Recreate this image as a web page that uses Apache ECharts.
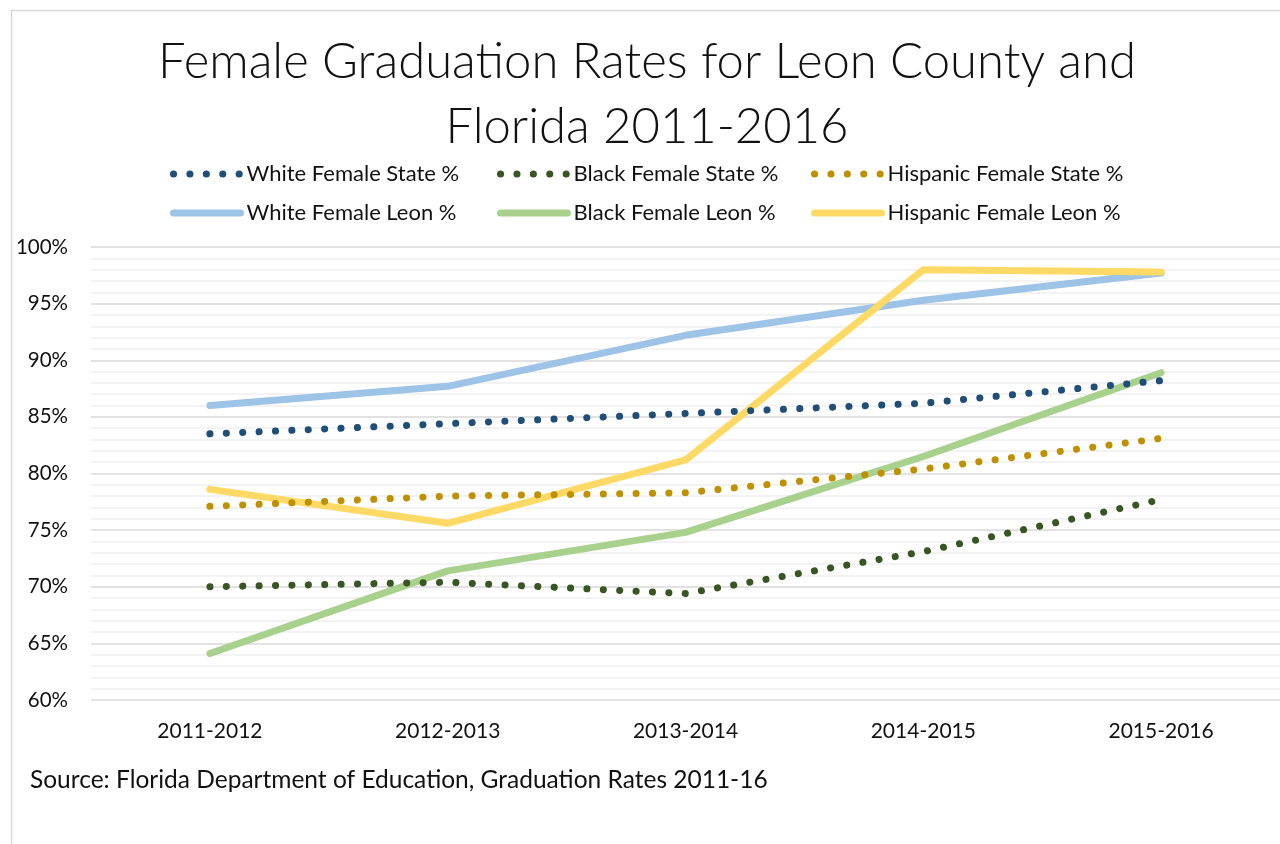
<!DOCTYPE html>
<html>
<head>
<meta charset="utf-8">
<script src="https://cdn.jsdelivr.net/npm/echarts@6/dist/echarts.min.js"></script>
<style>
  html, body { margin: 0; padding: 0; background: #fff; }
  #chart { width: 1280px; height: 844px; }
</style>
</head>
<body>
<div id="chart"></div>
<script>
const years = ['2011-2012', '2012-2013', '2013-2014', '2014-2015', '2015-2016'];

const whiteState = [83.5, 84.4, 85.3, 86.2, 88.2];
const blackState = [70.0, 70.4, 69.4, 73.1, 77.7];
const hispanicState = [77.1, 78.0, 78.3, 80.4, 83.1];
const whiteLeon = [86.0, 87.7, 92.2, 95.3, 97.7];
const blackLeon = [64.1, 71.4, 74.8, 81.5, 88.9];
const hispanicLeon = [78.6, 75.6, 81.2, 98.0, 97.8];

const fontFamily = 'Lato, "Open Sans", sans-serif';

let chartElement = document.getElementById('chart');
let chart = echarts.init(chartElement);

function dotted(name, color, data) {
    return {
        name: name,
        type: 'line',
        data: data,
        symbol: 'none',
        z: 3,
        itemStyle: { color: color },
        lineStyle: { color: color, width: 7, type: [0.1, 16.3], cap: 'round' }
    };
}

function solid(name, color, data) {
    return {
        name: name,
        type: 'line',
        data: data,
        symbol: 'none',
        z: 2,
        itemStyle: { color: color },
        lineStyle: { color: color, width: 7, cap: 'round', join: 'round' }
    };
}

function legendAt(name, left, top) {
    return {
        data: [name],
        left: left,
        top: top,
        padding: 0,
        itemWidth: 67,
        itemHeight: 22,
        selectedMode: false,
        itemStyle: { opacity: 0, borderWidth: 0 },
        lineStyle: { width: 7 },
        textStyle: { fontFamily: fontFamily, fontSize: 22, lineHeight: 22, color: '#111', padding: [0, 0, 0, 1] }
    };
}

let option = {
    animation: false,
    title: {
        text: 'Female Graduation Rates for Leon County and\nFlorida 2011-2016',
        left: 647,
        top: 30,
        padding: 0,
        textAlign: 'center',
        textStyle: { fontFamily: fontFamily, fontWeight: 300, fontSize: 49, lineHeight: 65, color: '#111' }
    },
    legend: [
        legendAt('White Female State %', 170, 163),
        legendAt('Black Female State %', 497, 163),
        legendAt('Hispanic Female State %', 811, 163),
        legendAt('White Female Leon %', 170, 202),
        legendAt('Black Female Leon %', 497, 202),
        legendAt('Hispanic Female Leon %', 811, 202)
    ],
    grid: { left: 91, right: 0, top: 247, bottom: 144 },
    xAxis: {
        type: 'category',
        data: years,
        boundaryGap: true,
        axisLine: { show: false },
        axisTick: { show: false },
        axisLabel: { fontFamily: fontFamily, fontSize: 21, color: '#111', margin: 21 }
    },
    yAxis: {
        type: 'value',
        min: 60,
        max: 100,
        interval: 5,
        axisLine: { show: false },
        axisTick: { show: false },
        axisLabel: { formatter: '{value}%', fontFamily: fontFamily, fontSize: 20.5, color: '#111', margin: 23 },
        splitLine: { lineStyle: { color: '#d9d9d9', width: 1.5 } },
        minorTick: { show: false, splitNumber: 5 },
        minorSplitLine: { show: true, lineStyle: { color: '#efefef', width: 1.5 } }
    },
    graphic: [
        {
            type: 'rect',
            shape: { x: 11.5, y: 10.5, width: 1400, height: 1000 },
            style: { fill: null, stroke: '#d9d9d9', lineWidth: 1.5 },
            silent: true
        },
        {
            type: 'text',
            left: 30,
            top: 768,
            style: {
                text: 'Source: Florida Department of Education, Graduation Rates 2011-16',
                font: '24.5px ' + fontFamily,
                fill: '#111'
            }
        }
    ],
    series: [
        solid('White Female Leon %', '#9dc3e6', whiteLeon),
        solid('Black Female Leon %', '#a9d18e', blackLeon),
        solid('Hispanic Female Leon %', '#ffd966', hispanicLeon),
        dotted('White Female State %', '#1f4e79', whiteState),
        dotted('Black Female State %', '#375623', blackState),
        dotted('Hispanic Female State %', '#bf9000', hispanicState)
    ]
};

chart.setOption(option);
new ResizeObserver(() => chart.resize()).observe(chartElement);
</script>
</body>
</html>
